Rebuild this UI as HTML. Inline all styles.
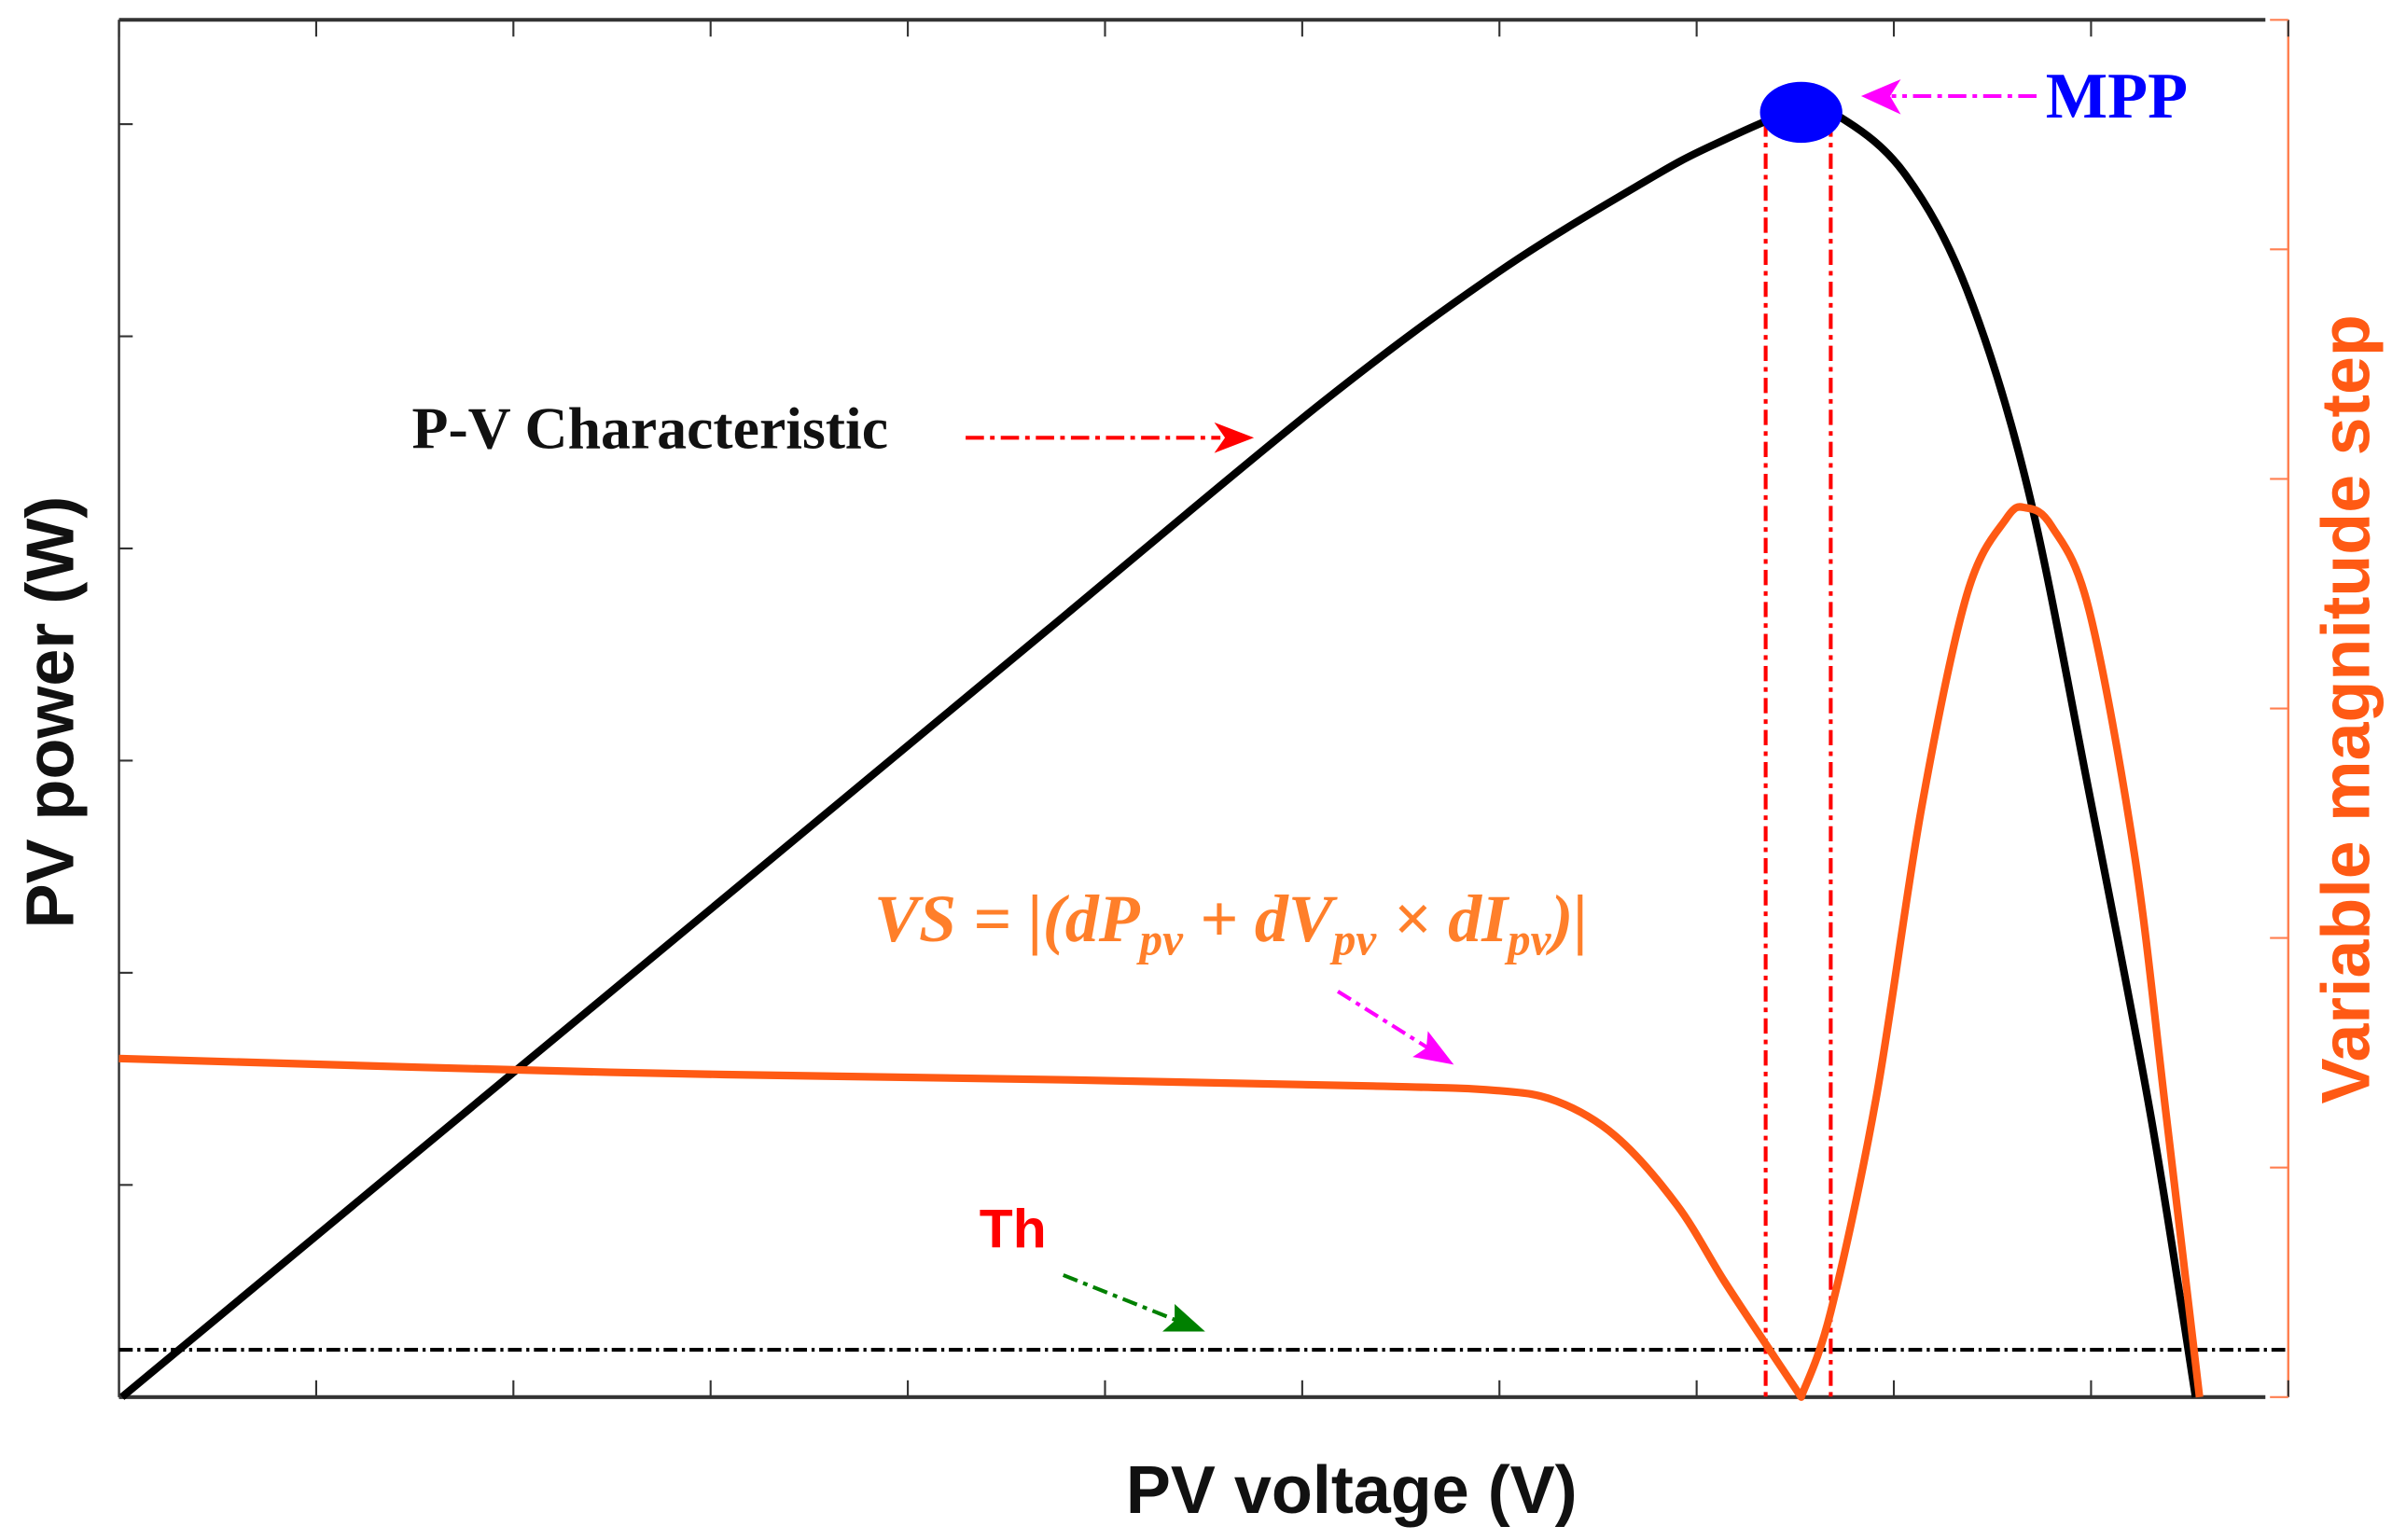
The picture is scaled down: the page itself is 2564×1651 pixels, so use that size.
<!DOCTYPE html>
<html><head><meta charset="utf-8"><style>
html,body{margin:0;padding:0;background:#fff;}
svg{display:block;}
</style></head><body>
<svg id="chart" width="2564" height="1651" viewBox="0 0 1568 1009.7" preserveAspectRatio="none" xmlns="http://www.w3.org/2000/svg">
<g id="axes"></g>
<g id="marks"></g>
<text x="270" y="294" font-family="Liberation Serif, serif" font-weight="bold" font-size="39" fill="#111">P-V Characteristic</text>
<line x1="633" y1="287" x2="800" y2="287" stroke="#f00" stroke-width="2.5" stroke-dasharray="12,4,3,4"/>
<polygon points="822,287 796,277 803,287 796,297" fill="#f00"/>
<text x="1341" y="77" font-family="Liberation Serif, serif" font-weight="bold" font-size="43" fill="#0000ff">MPP</text>
<line x1="1335" y1="63" x2="1240" y2="63" stroke="#f0f" stroke-width="2.5" stroke-dasharray="12,4,3,4"/>
<polygon points="1220,63 1246,52 1239,63 1246,75" fill="#f0f"/>
<text x="573" y="617" font-family="Liberation Serif, serif" font-style="italic" font-weight="bold" font-size="44" fill="#ff7f2a">VS = |(dP<tspan font-size="30" dy="9">pv</tspan><tspan dy="-9"> + dV</tspan><tspan font-size="30" dy="9">pv</tspan><tspan dy="-9"> × dI</tspan><tspan font-size="30" dy="9">pv</tspan><tspan dy="-9">)|</tspan></text>
<line x1="877" y1="650" x2="936" y2="687" stroke="#f0f" stroke-width="2.5" stroke-dasharray="10,4,3,4"/>
<polygon points="953,698 926,693 935,687 936,676" fill="#f0f"/>
<text x="642" y="818" font-family="Liberation Sans, sans-serif" font-weight="bold" font-size="36" fill="#f00">Th</text>
<line x1="697" y1="836" x2="772" y2="866" stroke="#008000" stroke-width="2.5" stroke-dasharray="10,4,3,4"/>
<polygon points="790,873 762,873 770,866 770,855" fill="#008000"/>
<text x="886" y="992" text-anchor="middle" font-family="Liberation Sans, sans-serif" font-weight="bold" font-size="44" fill="#111">PV voltage (V)</text>
<text transform="translate(48,467) rotate(-90)" text-anchor="middle" font-family="Liberation Sans, sans-serif" font-weight="bold" font-size="44" fill="#111">PV power (W)</text>
<text transform="translate(1553,465) rotate(-90)" text-anchor="middle" font-family="Liberation Sans, sans-serif" font-weight="bold" font-size="45" fill="#ff5a14">Variable magnitude step</text>
</svg>
<script>
const pvVoltage=[0.015,1.5,3.26,4.7,6.09,6.99,7.72,8.08,8.53,8.75,9.06,9.37,9.68,9.99,10.3,10.53];
const pvPower=[0,1.145,2.5,3.61,4.68,5.3,5.72,5.9,6.07,6.02,5.76,5.22,4.28,2.85,1.34,0];
const vsVoltage=[0,2.49,4.81,6.36,6.98,7.29,7.59,7.9,8.14,8.37,8.53,8.68,8.91,9.14,9.37,9.57,9.67,9.8,9.99,10.22,10.38,10.55];
const vsValues=[1.475,1.415,1.382,1.355,1.336,1.289,1.136,0.837,0.505,0.206,0,0.372,1.302,2.565,3.495,3.827,3.874,3.794,3.429,2.365,1.236,0];
const threshold=[0.206];
const mppVoltage=[8.53];
const mppPower=[6.07];
const bandVoltages=[8.35,8.68];
const xTicks=[0,1,2,3,4,5,6,7,8,9,10,11];
const yTicks=[0,1,2,3,4,5,6];
const y2Ticks=[0,1,2,3,4,5,6];

const X0=78,X1=1500,Y0=916,Y1=13;
const xs=v=>X0+v*(X1-X0)/11;
const ys=p=>Y0-p*139.1;
const y2s=p=>Y0-p*(Y0-Y1)/6;
const NS='http://www.w3.org/2000/svg';
function mk(parent,tag,attrs){const e=document.createElementNS(NS,tag);for(const k in attrs)e.setAttribute(k,attrs[k]);parent.appendChild(e);return e;}
function smooth(pts){let d='M'+pts[0][0]+','+pts[0][1];for(let i=0;i<pts.length-1;i++){const p0=pts[i-1]||pts[i],p1=pts[i],p2=pts[i+1],p3=pts[i+2]||p2;const t=6;d+=' C'+(p1[0]+(p2[0]-p0[0])/t)+','+(p1[1]+(p2[1]-p0[1])/t)+' '+(p2[0]-(p3[0]-p1[0])/t)+','+(p2[1]-(p3[1]-p1[1])/t)+' '+p2[0]+','+p2[1];}return d;}
const ax=document.getElementById('axes'),mg=document.getElementById('marks');

let e=mk(ax,'line',{x1:X0,y1:Y1,x2:1485,y2:Y1,stroke:'#333','stroke-width':2.5});

e=mk(ax,'line',{x1:X0,y1:Y0,x2:1485,y2:Y0,stroke:'#333','stroke-width':2.5});

e=mk(ax,'line',{x1:X0,y1:Y1,x2:X0,y2:Y0,stroke:'#333','stroke-width':1.5});

e=mk(ax,'line',{x1:X1,y1:Y1,x2:X1,y2:Y0,stroke:'#ff7f50','stroke-width':1.5});

xTicks.forEach(t=>{
  let a=mk(ax,'line',{x1:xs(t),y1:Y0,x2:xs(t),y2:Y0-11,stroke:'#333','stroke-width':1.3});
  
  let b=mk(ax,'line',{x1:xs(t),y1:Y1,x2:xs(t),y2:Y1+11,stroke:'#333','stroke-width':1.3});
  
});
yTicks.forEach(t=>{
  let a=mk(ax,'line',{x1:X0,y1:ys(t),x2:X0+9,y2:ys(t),stroke:'#333','stroke-width':1.3});
  
});
y2Ticks.forEach(t=>{
  let a=mk(ax,'line',{x1:X1,y1:y2s(t),x2:X1-12,y2:y2s(t),stroke:'#ff7f50','stroke-width':1.3});
  
});

e=mk(mg,'line',{x1:X0,y1:y2s(threshold[0]),x2:X1,y2:y2s(threshold[0]),stroke:'#000','stroke-width':2.5,'stroke-dasharray':'9,3,2,3'});

bandVoltages.forEach(v=>{
  let a=mk(mg,'line',{x1:xs(v),y1:ys(mppPower[0])+8,x2:xs(v),y2:Y0,stroke:'#f00','stroke-width':2.5,'stroke-dasharray':'10,4,3,4'});
  
});
e=mk(mg,'path',{d:smooth(pvVoltage.map((v,i)=>[xs(v),ys(pvPower[i])])),fill:'none',stroke:'#000','stroke-width':5,'stroke-linejoin':'round'});

const vsPts=vsVoltage.map((v,i)=>[xs(v),y2s(vsValues[i])]);
let minI=0;vsValues.forEach((v,i)=>{if(v<vsValues[minI]&&i<vsValues.length-1)minI=i;});
e=mk(mg,'path',{d:smooth(vsPts.slice(0,minI+1))+' '+smooth(vsPts.slice(minI)).replace('M','L'),fill:'none',stroke:'#ff5a14','stroke-width':5,'stroke-linejoin':'round'});

e=mk(mg,'ellipse',{cx:xs(mppVoltage[0]),cy:ys(mppPower[0])+2,rx:27,ry:20,fill:'#0000ff'});

</script>
</body></html>
